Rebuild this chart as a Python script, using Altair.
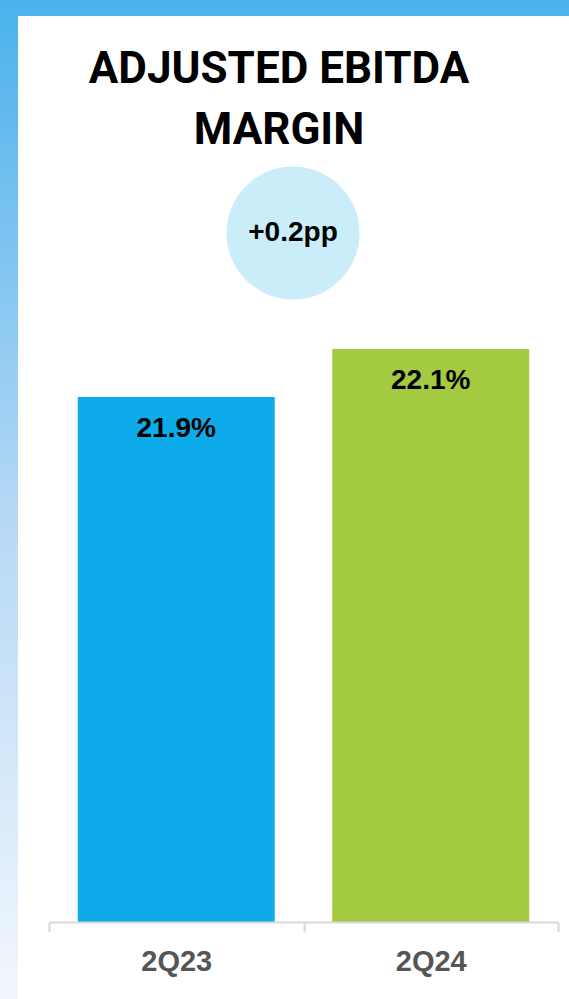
import altair as alt
import pandas as pd

# ---- data ----
categories = ["2Q23", "2Q24"]
values = [21.9, 22.1]
value_labels = ["21.9%", "22.1%"]
bar_colors = ["#0DABEA", "#A4CA41"]
title_lines = ["ADJUSTED EBITDA", "MARGIN"]
delta_label = ["+0.2pp"]

df = pd.DataFrame({"period": categories, "value": values, "label": value_labels})

W, H = 509, 622
PAD = {"left": 49, "top": 300, "right": 11, "bottom": 77}

x_enc = alt.X(
    "period:N",
    sort=categories,
    scale=alt.Scale(paddingInner=0, paddingOuter=0),
    axis=alt.Axis(
        title=None,
        labelAngle=0,
        domainColor="#D9D9D9",
        domainWidth=2,
        tickColor="#D9D9D9",
        tickWidth=2,
        tickSize=10,
        tickBand="extent",
        labelFont="Liberation Sans",
        labelFontWeight="bold",
        labelFontSize=29,
        labelColor="#555555",
        labelBaseline="alphabetic",
        labelPadding=38,
        grid=False,
        zindex=1,
    ),
)
y_scale = alt.Scale(domain=[19.7125, 22.3042], zero=False, nice=False, clamp=True)

# decorative background: gradient frame + white card
bg = alt.Chart(pd.DataFrame({"k": [0]})).mark_rect(
    fill=alt.LinearGradient(
        gradient="linear",
        stops=[
            alt.GradientStop(color="#4AB2EC", offset=0),
            alt.GradientStop(color="#B3D7F5", offset=0.5),
            alt.GradientStop(color="#F2F7FD", offset=1),
        ],
        x1=0, x2=0, y1=0, y2=1,
    )
).encode(x=alt.value(-49), x2=alt.value(520), y=alt.value(-300), y2=alt.value(699))

card = alt.Chart(pd.DataFrame({"k": [0]})).mark_rect(fill="white").encode(
    x=alt.value(-31), x2=alt.value(520), y=alt.value(-284), y2=alt.value(699)
)

title_df = pd.DataFrame({"line": title_lines, "i": [0, 1]})
title = alt.Chart(title_df).transform_calculate(
    ypos="-217 + datum.i * 61"
).mark_text(
    font="Roboto", fontWeight="bold", fontSize=44, color="black",
    align="center", baseline="alphabetic",
).encode(x=alt.value(230), y=alt.Y("ypos:Q", scale=None), text="line:N")

circle = alt.Chart(pd.DataFrame({"t": delta_label})).mark_point(
    shape="circle", filled=True, color="#CBEDF9", opacity=1, size=17689
).encode(x=alt.value(244), y=alt.value(-67))

delta = alt.Chart(pd.DataFrame({"t": delta_label})).mark_text(
    font="Liberation Sans", fontWeight="bold", fontSize=28, color="black",
    align="center", baseline="alphabetic",
).encode(x=alt.value(244), y=alt.value(-59), text="t:N")

bars = alt.Chart(df).mark_bar(width=alt.RelativeBandSize(0.774)).encode(
    x=x_enc,
    y=alt.Y("value:Q", scale=y_scale, axis=None),
    color=alt.Color("period:N", scale=alt.Scale(domain=categories, range=bar_colors), legend=None),
)

labels = alt.Chart(df).mark_text(
    font="Liberation Sans", fontWeight="bold", fontSize=28, color="black",
    align="center", baseline="alphabetic", dy=40,
).encode(
    x=alt.X("period:N", sort=categories),
    y=alt.Y("value:Q", scale=y_scale),
    text="label:N",
)

chart = alt.layer(bg, card, title, circle, delta, bars, labels).properties(
    width=W, height=H,
    autosize=alt.AutoSizeParams(type="none"),
    padding=PAD,
    background="white",
).configure_view(stroke=None, clip=False)

chart.save("out.html", embed_options={"renderer": "svg", "actions": False})
